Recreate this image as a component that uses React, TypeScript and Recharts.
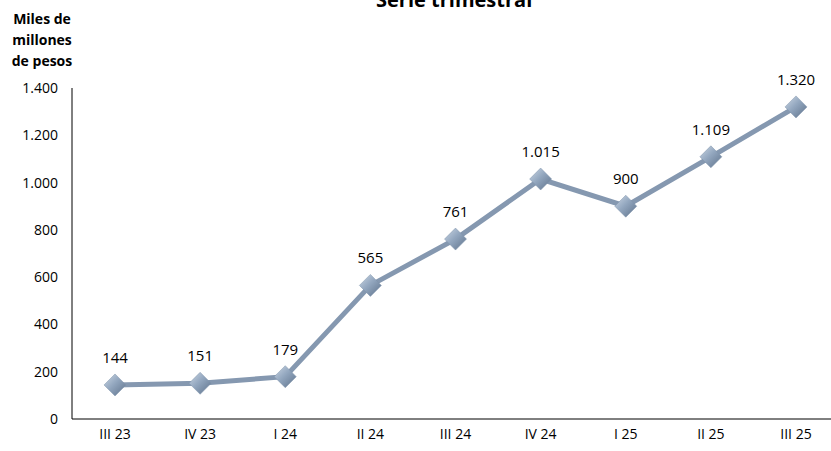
import { LineChart, Line, XAxis, YAxis, LabelList } from "recharts";

const quarters = ["III 23", "IV 23", "I 24", "II 24", "III 24", "IV 24", "I 25", "II 25", "III 25"];
const amounts = [144, 151, 179, 565, 761, 1015, 900, 1109, 1320];
const yTicks = [0, 200, 400, 600, 800, 1000, 1200, 1400];

const data = quarters.map((q, i) => ({ q, v: amounts[i] }));

const FONT = "'Open Sans', 'Noto Sans', sans-serif";
const fmt = (v: number) => v.toLocaleString("de-DE");

function Diamond(props: any) {
  const { cx, cy } = props;
  if (cx == null || cy == null) return null;
  const r = 11;
  return (
    <path
      d={`M${cx},${cy - r} L${cx + r},${cy} L${cx},${cy + r} L${cx - r},${cy} Z`}
      fill="url(#diamondGrad)"
      stroke="#7f93ab"
      strokeWidth={0.5}
    />
  );
}

export default function App() {
  return (
    <div style={{ position: "absolute", left: 0, top: 0, width: 831, height: 451, background: "#fff", fontFamily: FONT }}>
      <div style={{ position: "absolute", left: 376, top: -14, fontSize: 20, fontWeight: 700, color: "#000", whiteSpace: "nowrap" }}>
        Serie trimestral
      </div>
      <div style={{ position: "absolute", left: 2, top: 8, width: 80, textAlign: "center", fontSize: 14, fontWeight: 700, lineHeight: "21px", color: "#000" }}>
        Miles de<br />millones<br />de pesos
      </div>
      <LineChart width={831} height={451} data={data} margin={{ top: 88, right: 0, bottom: 0, left: 0 }}>
        <defs>
          <linearGradient id="diamondGrad" x1="0" y1="0" x2="1" y2="1">
            <stop offset="0%" stopColor="#cdd8e5" />
            <stop offset="45%" stopColor="#93a7bf" />
            <stop offset="100%" stopColor="#5d718a" />
          </linearGradient>
        </defs>
        <XAxis
          dataKey="q"
          scale="point"
          padding={{ left: 43, right: 35 }}
          tickLine={false}
          tickSize={0}
          tickMargin={10}
          axisLine={{ stroke: "#000", strokeWidth: 1 }}
          tick={{ fill: "#000", fontSize: 14, fontFamily: FONT }}
          height={32}
        />
        <YAxis
          domain={[0, 1400]}
          ticks={yTicks}
          width={72}
          tickLine={false}
          tickSize={0}
          tickMargin={14}
          axisLine={{ stroke: "#000", strokeWidth: 1 }}
          tickFormatter={fmt}
          tick={{ fill: "#000", fontSize: 14, fontFamily: FONT }}
        />
        <Line
          type="linear"
          dataKey="v"
          stroke="#8598b0"
          strokeWidth={5}
          dot={<Diamond />}
          activeDot={false}
          isAnimationActive={false}
        >
          <LabelList
            dataKey="v"
            position="top"
            offset={22}
            formatter={(v: any) => fmt(Number(v))}
            style={{ fill: "#000", fontSize: 15, fontFamily: FONT }}
          />
        </Line>
      </LineChart>
    </div>
  );
}
